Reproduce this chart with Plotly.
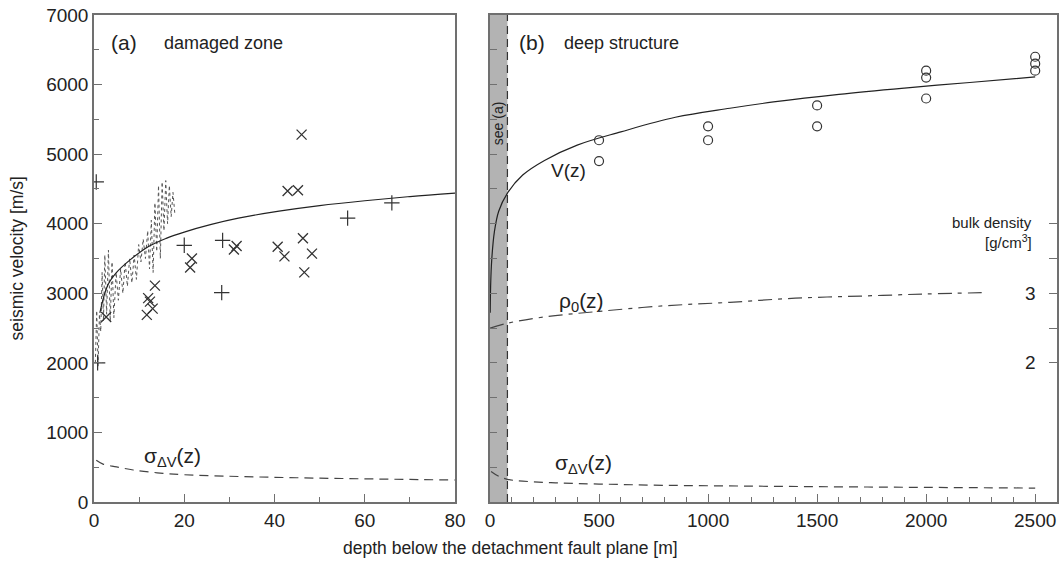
import plotly.graph_objects as go

# ---------------- panel (a): damaged zone ----------------
# sonic-log style velocity record (dotted zigzag)
log_depth = [0.3, 0.6, 0.9, 1.2, 1.5, 1.8, 2.1, 2.4, 2.8, 3.2, 3.6, 4.0, 4.4, 4.9,
             5.4, 5.9, 6.4, 6.9, 7.4, 7.9, 8.4, 8.9, 9.4, 9.9, 10.4, 10.9, 11.4,
             11.9, 12.3, 12.7, 13.1, 13.5, 13.9, 14.3, 14.7, 15.1, 15.5, 15.9,
             16.3, 16.7, 17.1, 17.5, 17.9]
log_vel = [2000, 2750, 1950, 2700, 2450, 3300, 2600, 3550, 2700, 3620, 2600, 3450,
           2650, 3300, 2900, 3350, 3000, 3450, 3100, 3500, 3150, 3550, 3200, 3700,
           3450, 3780, 3500, 3900, 3350, 4050, 3300, 4300, 3600, 4550, 3500, 4600,
           3900, 4620, 4000, 4550, 4100, 4450, 4150]

# "+" measurements
plus_depth = [0.5, 0.8, 20.0, 28.5, 28.3, 56.2, 66.0]
plus_vel = [4600, 2000, 3690, 3760, 3010, 4080, 4300]

# "x" measurements
cross_depth = [2.7, 12.0, 12.4, 11.7, 13.0, 13.5, 21.7, 21.3, 31.6, 31.0, 40.7,
               42.9, 45.2, 46.0, 42.2, 46.3, 48.3, 46.6]
cross_vel = [2660, 2930, 2880, 2690, 2780, 3110, 3500, 3370, 3680, 3630, 3670,
             4470, 4480, 5280, 3530, 3790, 3570, 3300]

# velocity model V(z), shallow part
va_depth = [1.3, 3, 5, 8, 12, 16, 20, 26, 32, 41, 50, 60, 70, 80]
va_vel = [2720, 3110, 3300, 3480, 3670, 3790, 3880, 3990, 4080, 4180, 4260, 4330,
          4390, 4440]

# velocity uncertainty sigma_dV(z), shallow part
sa_depth = [0.5, 2, 5, 8.7, 14, 20, 30, 40, 50, 60, 70, 80]
sa_vel = [600, 545, 505, 460, 420, 392, 370, 355, 343, 333, 324, 316]

# ---------------- panel (b): deep structure ----------------
circ_depth = [500, 500, 1000, 1000, 1500, 1500, 2000, 2000, 2000, 2500, 2500, 2500]
circ_vel = [5200, 4900, 5400, 5200, 5700, 5400, 6200, 6100, 5800, 6400, 6300, 6200]

vb_depth = [1, 3, 8, 20, 40, 80, 150, 250, 400, 600, 850, 1100, 1300, 1600, 1900,
            2200, 2500]
vb_vel = [2720, 3110, 3480, 3880, 4180, 4440, 4700, 4910, 5130, 5320, 5530, 5660,
          5750, 5860, 5950, 6030, 6110]

rho_depth = [0, 80, 250, 500, 800, 1100, 1400, 1700, 2000, 2280]
rho_val = [2.50, 2.57, 2.66, 2.74, 2.82, 2.87, 2.93, 2.96, 2.99, 3.01]

sb_depth = [5, 40, 80, 150, 300, 500, 800, 1200, 1600, 2000, 2500]
sb_vel = [440, 370, 326, 300, 275, 258, 240, 228, 218, 210, 200]

density_ticks = [2, 2.5, 3, 3.5, 4]
density_labels = ["2", "3"]
damaged_zone_limit = 80

INK = "#222222"
MARK = "#333333"
FRAME = "#707070"
FONT = "Liberation Sans, Arial, sans-serif"

fig = go.Figure()

fig.add_trace(go.Scatter(x=log_depth, y=log_vel, mode="lines",
                         line=dict(color="#555555", width=1, dash="dot"),
                         xaxis="x", yaxis="y"))
fig.add_trace(go.Scatter(x=va_depth, y=va_vel, mode="lines",
                         line=dict(color=INK, width=1.2, shape="spline"),
                         xaxis="x", yaxis="y"))
fig.add_trace(go.Scatter(x=sa_depth, y=sa_vel, mode="lines",
                         line=dict(color="#444444", width=1.2, dash="9px,6px", shape="spline"),
                         xaxis="x", yaxis="y"))
fig.add_trace(go.Scatter(x=plus_depth, y=plus_vel, mode="markers",
                         marker=dict(symbol="cross-thin", size=11, color=MARK,
                                     line=dict(color=MARK, width=1.2)),
                         xaxis="x", yaxis="y"))
fig.add_trace(go.Scatter(x=cross_depth, y=cross_vel, mode="markers",
                         marker=dict(symbol="x-thin", size=10, color=MARK,
                                     line=dict(color=MARK, width=1.3)),
                         xaxis="x", yaxis="y"))

fig.add_trace(go.Scatter(x=vb_depth, y=vb_vel, mode="lines",
                         line=dict(color=INK, width=1.2, shape="spline"),
                         xaxis="x2", yaxis="y2"))
fig.add_trace(go.Scatter(x=sb_depth, y=sb_vel, mode="lines",
                         line=dict(color="#444444", width=1.2, dash="9px,6px", shape="spline"),
                         xaxis="x2", yaxis="y2"))
fig.add_trace(go.Scatter(x=circ_depth, y=circ_vel, mode="markers",
                         marker=dict(symbol="circle-open", size=9, color=MARK,
                                     line=dict(color=MARK, width=1.2)),
                         xaxis="x2", yaxis="y2"))
fig.add_trace(go.Scatter(x=rho_depth, y=rho_val, mode="lines",
                         line=dict(color="#444444", width=1.2, dash="14px,6px,4px,6px",
                                   shape="spline"),
                         xaxis="x2", yaxis="y3"))

# shaded band marking the depth range of panel (a)
fig.add_shape(type="rect", xref="x2", yref="y2", x0=0, x1=damaged_zone_limit,
              y0=0, y1=7000, fillcolor="#b3b3b3", line_width=0, layer="below")
fig.add_shape(type="line", xref="x2", yref="y2", x0=damaged_zone_limit,
              x1=damaged_zone_limit, y0=0, y1=7000,
              line=dict(color="#333333", width=1.2, dash="8px,5px"))

tick_font = dict(family=FONT, size=19, color=INK)
axis_common = dict(showgrid=False, zeroline=False, showline=True, mirror=True,
                   linecolor=FRAME, linewidth=1.5, ticks="inside", tickcolor=FRAME,
                   tickwidth=1.2, tickfont=tick_font, automargin=False)

fig.update_layout(
    width=1062, height=566,
    margin=dict(l=94, r=5, t=15, b=64, autoexpand=False),
    paper_bgcolor="white", plot_bgcolor="white",
    showlegend=False,
    font=dict(family=FONT, color=INK),
    xaxis=dict(domain=[0, 0.3749], range=[0, 80], anchor="y",
               tickvals=[0, 20, 40, 60, 80], ticklen=8,
               minor=dict(dtick=10, ticks="inside", ticklen=5, tickcolor=FRAME),
               **axis_common),
    yaxis=dict(domain=[0, 1], range=[0, 7000], anchor="x",
               tickvals=[0, 1000, 2000, 3000, 4000, 5000, 6000, 7000], ticklen=8,
               minor=dict(dtick=500, ticks="inside", ticklen=5, tickcolor=FRAME),
               **axis_common),
    xaxis2=dict(domain=[0.4112, 1.0], range=[0, 2600], anchor="y2",
                tickvals=[0, 500, 1000, 1500, 2000, 2500], ticklen=8,
                minor=dict(dtick=100, ticks="inside", ticklen=5, tickcolor=FRAME),
                **axis_common),
    yaxis2=dict(domain=[0, 1], range=[0, 7000], anchor="x2", showticklabels=False,
                tickvals=[500 * i for i in range(15)], ticklen=7,
                **axis_common),
    yaxis3=dict(range=[0, 7], overlaying="y2", anchor="x2", side="right",
                tickvals=density_ticks, ticks="inside", ticklen=8, tickcolor=FRAME,
                tickwidth=1.2, showticklabels=False, showline=False,
                showgrid=False, zeroline=False, automargin=False),
)

ann = []
def label(text, x, y, xref, yref, size, xanchor="center", yanchor="middle", angle=0):
    ann.append(dict(text=text, x=x, y=y, xref=xref, yref=yref, showarrow=False,
                    xanchor=xanchor, yanchor=yanchor, textangle=angle,
                    font=dict(family=FONT, size=size, color=INK)))

label("(a)", 6.6, 6600, "x", "y", 21)
label("damaged zone", 15, 6600, "x", "y", 18, xanchor="left")
label("σ<sub>ΔV</sub>(z)", 17.3, 640, "x", "y", 21)

label("(b)", 193, 6600, "x2", "y2", 21)
label("deep structure", 330, 6600, "x2", "y2", 18, xanchor="left")
label("V(z)", 358, 4770, "x2", "y2", 19)
label("ρ<sub>0</sub>(z)", 420, 2880, "x2", "y2", 21)
label("σ<sub>ΔV</sub>(z)", 427, 540, "x2", "y2", 21)
label("see (a)", 34, 5450, "x2", "y2", 14, angle=-90)

label("bulk density", 2495, 4020, "x2", "y2", 15, xanchor="right")
label("[g/cm<sup>3</sup>]", 2495, 3740, "x2", "y2", 15, xanchor="right")
for t in density_labels:
    label(t, 2480, float(t), "x2", "y3", 19)

label("seismic velocity [m/s]", -0.08, 0.5, "paper", "paper", 17.5, angle=-90)
label("depth below the detachment fault plane [m]", 0.432, -0.095, "paper", "paper", 17.5)

fig.update_layout(annotations=ann)
fig.write_html("out.html")
